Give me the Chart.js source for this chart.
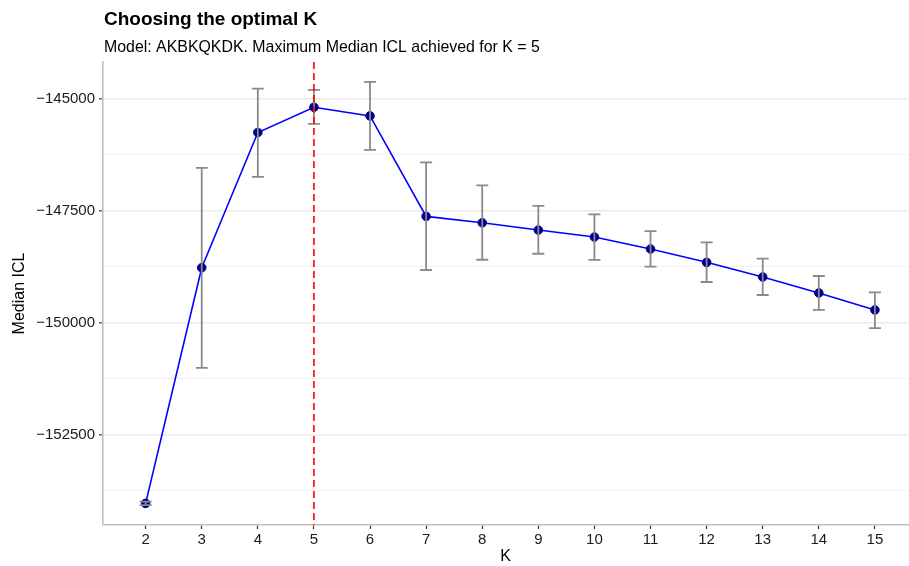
<!DOCTYPE html>
<html>
<head>
<meta charset="utf-8">
<script src="https://cdn.jsdelivr.net/npm/chart.js@4.4.1/dist/chart.umd.min.js"></script>
<style>
  html, body { margin: 0; padding: 0; background: #fff; }
  #wrap { width: 909px; height: 566px; }
</style>
</head>
<body>
<div id="wrap"><canvas id="iclChart" width="909" height="566"></canvas></div>
<script>
// number of clusters tried
var kValues = [2, 3, 4, 5, 6, 7, 8, 9, 10, 11, 12, 13, 14, 15];
// median ICL per K, with the spread shown as error bars
var medianICL = [-154032, -148769, -145749, -145185, -145379, -147623, -147765, -147928, -148084, -148352, -148649, -148976, -149333, -149712];
var iclLower  = [-154070, -151006, -146740, -145558, -146137, -148820, -148591, -148457, -148593, -148747, -149088, -149378, -149712, -150120];
var iclUpper  = [-153995, -146539, -144768, -144799, -144621, -146418, -146931, -147386, -147576, -147950, -148202, -148568, -148954, -149318];
var bestK = 5;
// y gridlines: labelled every 2500, light ones halfway between
var yTicks = [-153750, -152500, -151250, -150000, -148750, -147500, -146250, -145000];

var titleText = 'Choosing the optimal K';
var subtitleText = 'Model: AKBKQKDK. Maximum Median ICL achieved for K = ' + bestK;

Chart.defaults.font.family = '"Liberation Sans", Arial, Helvetica, sans-serif';
Chart.defaults.color = '#1a1a1a';

var points = kValues.map(function (k, i) { return { x: k, y: medianICL[i] }; });

// title + subtitle in the top margin
var headerPlugin = {
  id: 'header',
  afterDraw: function (chart) {
    var c = chart.ctx;
    c.save();
    c.fillStyle = '#000';
    c.textAlign = 'left';
    c.textBaseline = 'alphabetic';
    c.font = 'bold 19px "Liberation Sans", Arial, sans-serif';
    c.fillText(titleText, 104, 25);
    c.font = '15.9px "Liberation Sans", Arial, sans-serif';
    c.fillText(subtitleText, 104, 52);
    c.restore();
  }
};

// error bars and the dashed marker at the best K
var errorBarPlugin = {
  id: 'errorBars',
  afterDatasetsDraw: function (chart) {
    var c = chart.ctx;
    var xs = chart.scales.x, ys = chart.scales.y;
    var area = chart.chartArea;
    c.save();
    c.strokeStyle = '#8a8a8a';
    c.lineWidth = 1.8;
    var cap = 6;
    for (var i = 0; i < kValues.length; i++) {
      var px = xs.getPixelForValue(kValues[i]);
      var top = ys.getPixelForValue(iclUpper[i]);
      var bot = ys.getPixelForValue(iclLower[i]);
      c.beginPath();
      c.moveTo(px, top); c.lineTo(px, bot);
      c.moveTo(px - cap, top); c.lineTo(px + cap, top);
      c.moveTo(px - cap, bot); c.lineTo(px + cap, bot);
      c.stroke();
    }
    var bx = xs.getPixelForValue(bestK);
    c.strokeStyle = '#ff0000';
    c.lineWidth = 1.6;
    c.setLineDash([7, 4]);
    c.beginPath();
    c.moveTo(bx, area.top);
    c.lineTo(bx, area.bottom);
    c.stroke();
    c.restore();
  }
};

var ctx = document.getElementById('iclChart').getContext('2d');
var chart = new Chart(ctx, {
  type: 'line',
  data: {
    datasets: [{
      label: 'Median ICL',
      data: points,
      borderColor: '#0000ff',
      borderWidth: 1.6,
      pointBackgroundColor: '#00008b',
      pointBorderColor: '#00008b',
      pointRadius: 4.3,
      pointBorderWidth: 1,
      tension: 0,
      fill: false
    }]
  },
  options: {
    responsive: false,
    animation: false,
    layout: {
      autoPadding: false,
      padding: { top: 62, right: 1, bottom: 0, left: 0 }
    },
    plugins: {
      legend: { display: false },
      tooltip: { enabled: false }
    },
    scales: {
      x: {
        type: 'linear',
        min: 1.24,
        max: 15.59,
        afterBuildTicks: function (axis) {
          axis.ticks = kValues.map(function (k) { return { value: k }; });
        },
        afterFit: function (axis) {
          axis.height = 41;
          axis.paddingLeft = 0;
          axis.paddingRight = 0;
        },
        ticks: {
          padding: 2,
          font: { size: 15 },
          color: '#1a1a1a',
          callback: function (v) { return String(v); }
        },
        grid: {
          drawOnChartArea: false,
          tickLength: 4,
          tickColor: '#333',
          tickWidth: 1.2
        },
        border: { color: '#bfbfbf', width: 1.6 },
        title: {
          display: true,
          text: 'K',
          font: { size: 16 },
          color: '#000',
          padding: { top: 0, bottom: 0 }
        }
      },
      y: {
        min: -154515,
        max: -144175,
        afterBuildTicks: function (axis) {
          axis.ticks = yTicks.map(function (v) { return { value: v }; });
        },
        afterFit: function (axis) {
          axis.width = 103;
          axis.paddingTop = 0;
          axis.paddingBottom = 0;
        },
        ticks: {
          padding: 4,
          font: { size: 15 },
          color: '#1a1a1a',
          callback: function (v) {
            return v % 2500 === 0 ? '\u2212' + Math.abs(v) : '';
          }
        },
        grid: {
          color: function (c) {
            return c.tick && c.tick.value % 2500 === 0 ? '#ebebeb' : '#f0f0f0';
          },
          lineWidth: function (c) {
            return c.tick && c.tick.value % 2500 === 0 ? 1.6 : 1.1;
          },
          tickLength: 4,
          tickColor: function (c) {
            return c.tick && c.tick.value % 2500 === 0 ? '#333' : 'rgba(0,0,0,0)';
          },
          tickWidth: 1.2
        },
        border: { color: '#bfbfbf', width: 1.6 },
        title: {
          display: true,
          text: 'Median ICL',
          font: { size: 16 },
          color: '#000',
          padding: { top: 10, bottom: 0 }
        }
      }
    }
  },
  plugins: [headerPlugin, errorBarPlugin]
});
</script>
</body>
</html>
